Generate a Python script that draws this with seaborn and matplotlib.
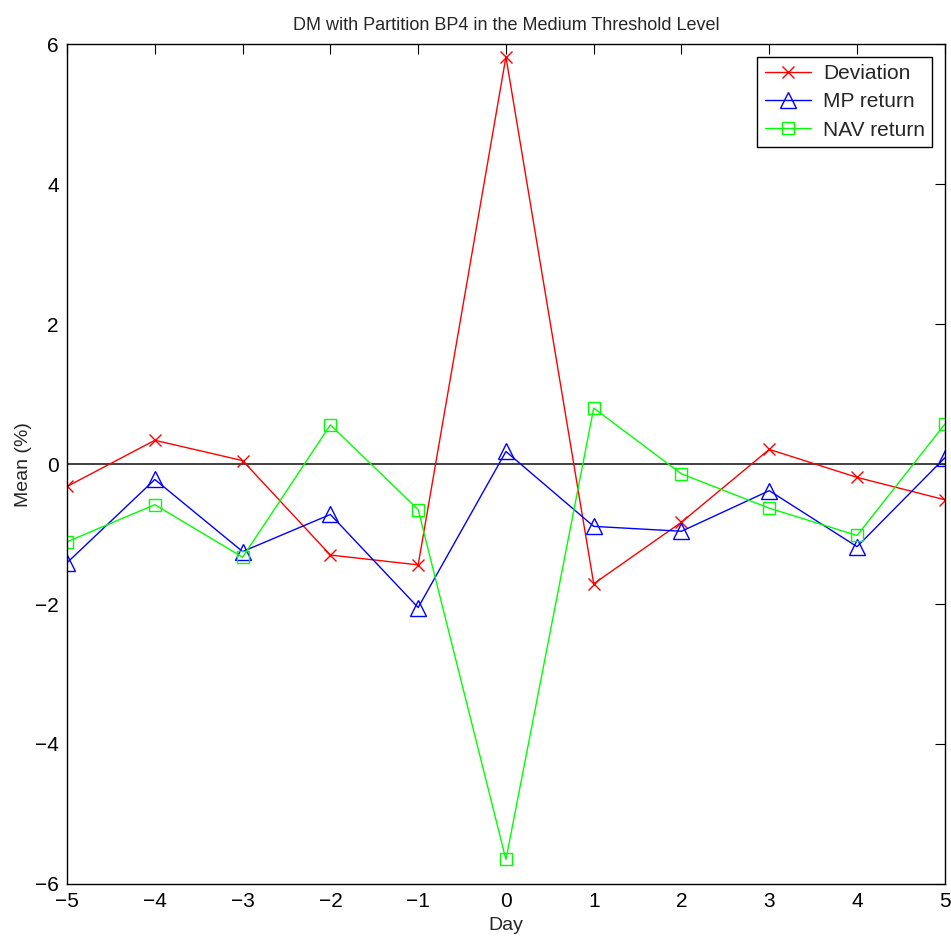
import matplotlib
matplotlib.use("Agg")
import matplotlib.pyplot as plt
import seaborn as sns
import numpy as np
import pandas as pd

days = [-5, -4, -3, -2, -1, 0, 1, 2, 3, 4, 5]
deviation = [-0.32, 0.34, 0.05, -1.30, -1.44, 5.82, -1.71, -0.83, 0.21, -0.19, -0.51]
mp_return = [-1.41, -0.22, -1.25, -0.72, -2.05, 0.18, -0.89, -0.96, -0.38, -1.18, 0.09]
nav_return = [-1.11, -0.58, -1.33, 0.56, -0.65, -5.65, 0.80, -0.14, -0.63, -1.02, 0.57]
x_ticks = [-5, -4, -3, -2, -1, 0, 1, 2, 3, 4, 5]
y_ticks = [-6, -4, -2, 0, 2, 4, 6]

sns.set_style("white")
plt.rcParams['font.family'] = ['Liberation Sans', 'DejaVu Sans']

fig = plt.figure(figsize=(9.51, 9.51), dpi=100)
ax = fig.add_axes([0.0705, 0.0705, 0.923, 0.883])

ax.axhline(0, color='#333333', lw=1.3, zorder=1)

sns.lineplot(x=days, y=deviation, ax=ax, color='#ff0000', marker='x', markersize=8,
             markeredgecolor='#ff0000', markeredgewidth=1.0, lw=1.0, label='Deviation')
sns.lineplot(x=days, y=mp_return, ax=ax, color='#0000ff', marker='^', markersize=11,
             markerfacecolor='none', markeredgecolor='#0000ff', markeredgewidth=1.0, lw=1.0,
             label='MP return')
sns.lineplot(x=days, y=nav_return, ax=ax, color='#00ff00', marker='s', markersize=8,
             markerfacecolor='none', markeredgecolor='#00ff00', markeredgewidth=1.0, lw=1.0,
             label='NAV return')

ax.set_xlim(-5, 5)
ax.set_ylim(-6, 6)
ax.set_xticks(x_ticks)
ax.set_yticks(y_ticks)
ax.set_xticklabels([str(t).replace('-', '\u2212') for t in x_ticks])
ax.set_yticklabels([str(t).replace('-', '\u2212') for t in y_ticks])
ax.tick_params(direction='in', length=7, width=0.8, top=True, right=True,
               labelsize=15, colors='black', pad=6)
for s in ax.spines.values():
    s.set_visible(True)
    s.set_color('black')
    s.set_linewidth(1.0)

ax.set_xlabel('Day', fontsize=14, labelpad=4)
ax.set_ylabel('Mean (%)', fontsize=14, labelpad=2)
ax.set_title('DM with Partition BP4 in the Medium Threshold Level', fontsize=13, pad=10)

leg = ax.legend(loc='upper right', fontsize=15, frameon=True, fancybox=False,
                edgecolor='black', framealpha=1, handlelength=2.2, borderpad=0.35,
                labelspacing=0.45, borderaxespad=0.6, handletextpad=0.6)
leg.get_frame().set_linewidth(1.0)

fig.savefig('out.png', dpi=100)
